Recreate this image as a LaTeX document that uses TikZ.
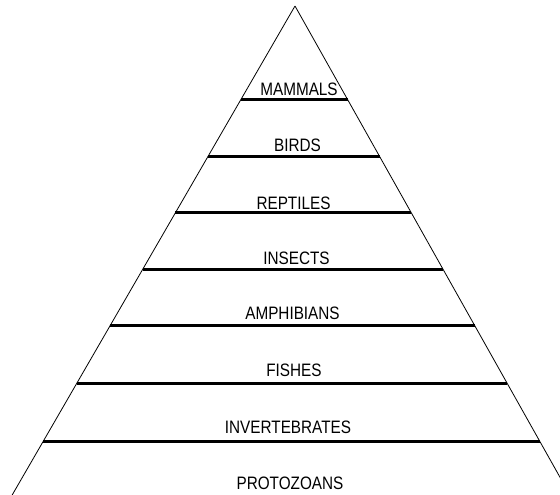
\documentclass[tikz,border=0pt]{standalone}
\usepackage{fontspec}
\setmainfont{Liberation Sans}
\usetikzlibrary{calc}
\newcommand{\nar}[1]{\scalebox{0.85}[1]{#1}}
\begin{document}
\begin{tikzpicture}[x=1pt,y=-1pt,
  side/.style={line width=0.8pt,black},
  divider/.style={line width=3pt,black},
  lbl/.style={anchor=base,inner sep=0pt,font=\fontsize{18}{20}\selectfont}]
\useasboundingbox (0,0) rectangle (560,495);
\clip (0,0) rectangle (560,495);
\coordinate (A) at (295,6);
\coordinate (L) at (43,441.7);
\coordinate (R) at (540,441.7);
\draw[side] (A) -- ($(A)!1.13!(L)$);
\draw[side] (A) -- ($(A)!1.13!(R)$);
\foreach \t/\n in {0.2157/1,0.3459/2,0.4744/3,0.6043/4,0.7344/5,0.8660/6,1/7}{
  \draw[divider] ($(A)!\t!(L)$) -- ($(A)!\t!(R)$);
}
\node[lbl] (mammals) at (299,95.5) {\nar{MAMMALS}};
\node[lbl] (birds) at (297.5,151.5) {\nar{BIRDS}};
\node[lbl] (reptiles) at (293.5,209.5) {\nar{REPTILES}};
\node[lbl] (insects) at (296.5,264.5) {\nar{INSECTS}};
\node[lbl] (amphibians) at (292.5,319.5) {\nar{AMPHIBIANS}};
\node[lbl] (fishes) at (294,376) {\nar{FISHES}};
\node[lbl] (invertebrates) at (288,433) {\nar{INVERTEBRATES}};
\node[lbl] (protozoans) at (290,489.5) {\nar{PROTOZOANS}};
\end{tikzpicture}
\end{document}
